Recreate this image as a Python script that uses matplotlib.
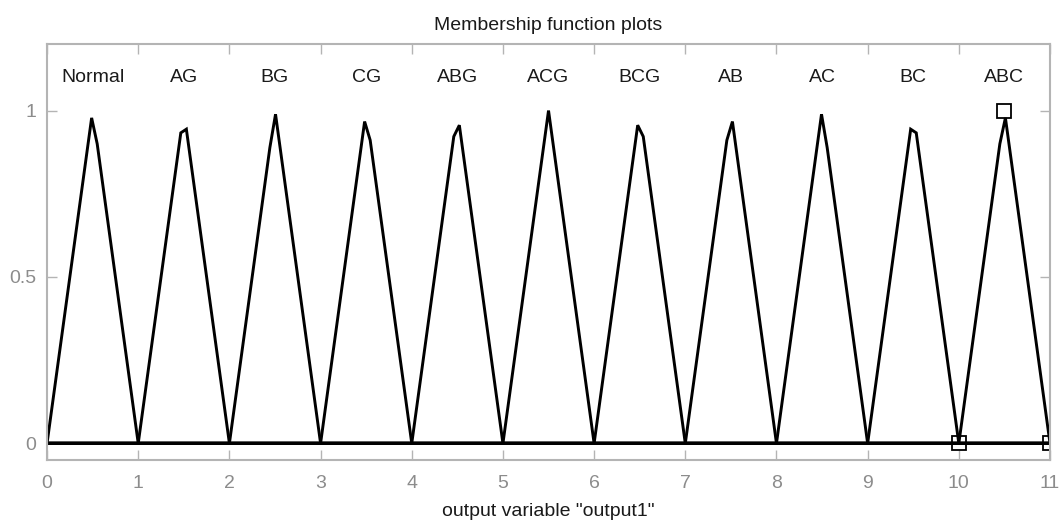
import matplotlib

matplotlib.use("Agg")
import matplotlib.pyplot as plt

mf_names = ["Normal", "AG", "BG", "CG", "ABG", "ACG", "BCG", "AB", "AC", "BC", "ABC"]
mf_left = [0, 1, 2, 3, 4, 5, 6, 7, 8, 9, 10]
mf_right = [1, 2, 3, 4, 5, 6, 7, 8, 9, 10, 11]
apex_x = [
    [0.489, 0.550], [1.467, 1.528], [2.444, 2.506], [3.483, 3.544],
    [4.461, 4.522], [5.500], [6.478, 6.539], [7.456, 7.517],
    [8.494, 8.556], [9.472, 9.533], [10.450, 10.511],
]
apex_y = [
    [0.978, 0.900], [0.933, 0.944], [0.889, 0.989], [0.967, 0.911],
    [0.922, 0.956], [1.000], [0.956, 0.922], [0.911, 0.967],
    [0.989, 0.889], [0.944, 0.933], [0.900, 0.978],
]
# selected MF (ABC) vertex handles
sel_x = [10, 10.5, 11]
sel_y = [0, 1, 0]

GREY = "#8c8c8c"
SPINE = "#b4b4b4"
INK = "#1a1a1a"

plt.rcParams["font.family"] = ["Liberation Sans", "DejaVu Sans"]

fig = plt.figure(figsize=(10.62, 5.25), dpi=100)
ax = fig.add_axes([0.0443, 0.1238, 0.9444, 0.7924])

for name, a, c, xs, ys in zip(mf_names, mf_left, mf_right, apex_x, apex_y):
    ax.plot([mf_left[0], a] + xs + [c, mf_right[-1]], [0, 0] + ys + [0, 0],
            color="black", linewidth=2.1, solid_joinstyle="miter")
    ax.text((a + c) / 2, 1.1, name, ha="center", va="center", fontsize=14, color=INK)

ax.plot(sel_x, sel_y, linestyle="none", marker="s", markersize=10,
        markerfacecolor="none", markeredgecolor="black", markeredgewidth=1.3)

ax.set_xlim(0, 11)
ax.set_ylim(-0.05, 1.2)
ax.set_xticks(range(0, 12))
ax.set_yticks([0, 0.5, 1])
ax.set_yticklabels(["0", "0.5", "1"])
ax.tick_params(direction="in", length=7, width=1, colors=SPINE, labelcolor=GREY,
               labelsize=14, top=True, right=True)
ax.tick_params(axis="x", pad=11)
ax.tick_params(axis="y", pad=8)
for sp in ax.spines.values():
    sp.set_color(SPINE)
    sp.set_linewidth(1.5)

ax.set_title("Membership function plots", fontsize=14, color=INK, pad=10)
ax.set_xlabel('output variable "output1"', fontsize=14, color=INK, labelpad=8)

fig.savefig("out.png", dpi=100)
